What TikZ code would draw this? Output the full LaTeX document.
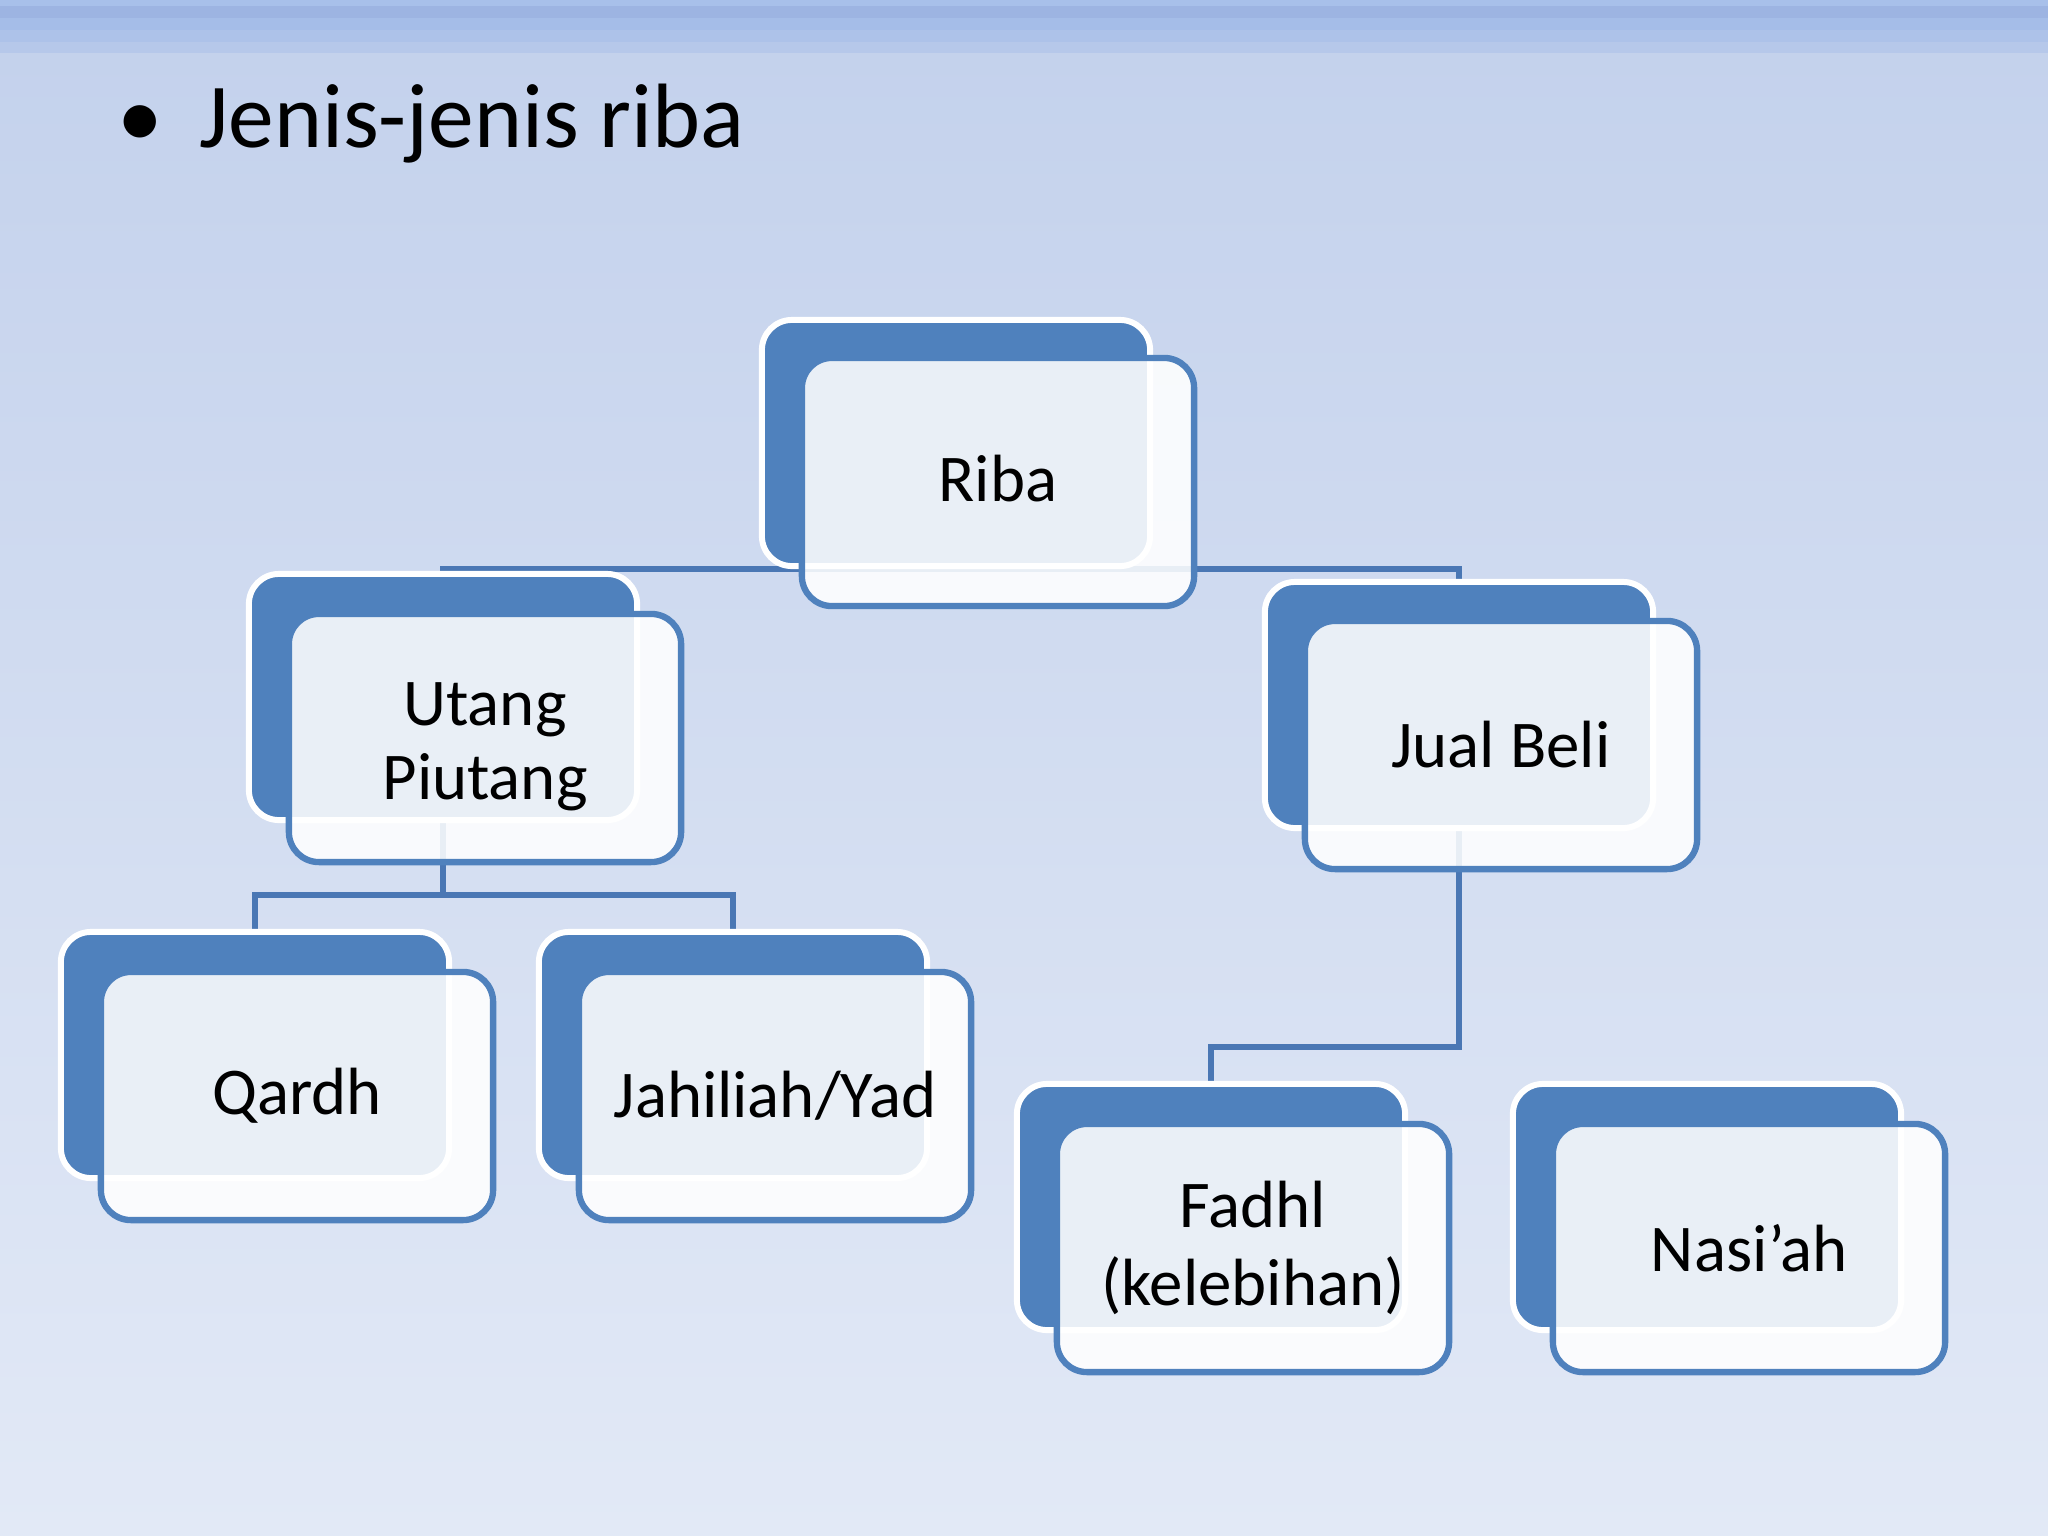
\documentclass[tikz,border=0pt]{standalone}
\usepackage{fontspec}
\setmainfont{Carlito}
\usetikzlibrary{backgrounds}
\definecolor{accent}{HTML}{4F81BD}
\definecolor{linkblue}{HTML}{4A77B4}
\definecolor{slidetop}{HTML}{C3D1EC}
\definecolor{slidebottom}{HTML}{E2E9F6}

\begin{document}
\begin{tikzpicture}[x=0.01cm, y=-0.01cm,
		backbox/.style={rectangle, rounded corners=0.3cm, minimum width=3.88cm, minimum height=2.46cm, fill=accent, draw=white, line width=1.7pt},
		frontbox/.style={rectangle, rounded corners=0.3cm, minimum width=3.92cm, minimum height=2.48cm, fill=white, fill opacity=0.88, text opacity=1, draw=accent, line width=1.8pt, align=center, font=\fontsize{19}{22}\selectfont},
		link/.style={draw=linkblue, line width=1.6pt}]
		\useasboundingbox (0,0) rectangle (2048,1536);

		\draw (105,147) node[anchor=base west, font=\fontsize{26}{30}\selectfont] (title) {\makebox[0.82cm][l]{•}Jenis-jenis riba};

		\draw (956,443) node[backbox] (ribaback) {};
		\draw (998,482) node[frontbox] (riba) {\raisebox{2pt}{Riba}};

		\draw (443,697) node[backbox] (utangback) {};
		\draw (485,738) node[frontbox] (utang) {\raisebox{-2.5pt}[\height][\depth]{\shortstack{Utang\\[1.5pt]Piutang}}};

		\draw (1459,705) node[backbox] (jualback) {};
		\draw (1501,745) node[frontbox] (jual) {Jual Beli};

		\draw (255,1055) node[backbox] (qardhback) {};
		\draw (297,1096) node[frontbox] (qardh) {Qardh};

		\draw (733,1055) node[backbox] (jahiliahback) {};
		\draw (775,1096) node[frontbox] (jahiliah) {Jahiliah/Yad};

		\draw (1211,1207) node[backbox] (fadhlback) {};
		\draw (1253,1248) node[frontbox] (fadhl) {Fadhl\\(kelebihan)};

		\draw (1707,1207) node[backbox] (nasiahback) {};
		\draw (1749,1248) node[frontbox] (nasiah) {Nasi’ah};

		\coordinate (utangfork) at (443,895);
		\coordinate (jualfork) at (1459,1047);

		\begin{scope}[on background layer]
			\shade[top color=slidetop, bottom color=slidebottom] (0,0) rectangle (2048,1536);
			\fill[color={rgb,255:red,168;green,192;blue,234}] (0,0) rectangle (2048,6);
			\fill[color={rgb,255:red,157;green,180;blue,226}] (0,6) rectangle (2048,18);
			\fill[color={rgb,255:red,165;green,189;blue,232}] (0,18) rectangle (2048,30);
			\fill[color={rgb,255:red,173;green,194;blue,233}] (0,30) rectangle (2048,42);
			\fill[color={rgb,255:red,182;green,200;blue,234}] (0,42) rectangle (2048,53);

			\draw[link] (ribaback.south) -| (utangback.north);
			\draw[link] (ribaback.south) -| (jualback.north);
			\draw[link] (utangback.south) -- (utangfork) -| (qardhback.north);
			\draw[link] (utangfork) -| (jahiliahback.north);
			\draw[link] (jualback.south) -- (jualfork) -| (fadhlback.north);
		\end{scope}
	\end{tikzpicture}
\end{document}
